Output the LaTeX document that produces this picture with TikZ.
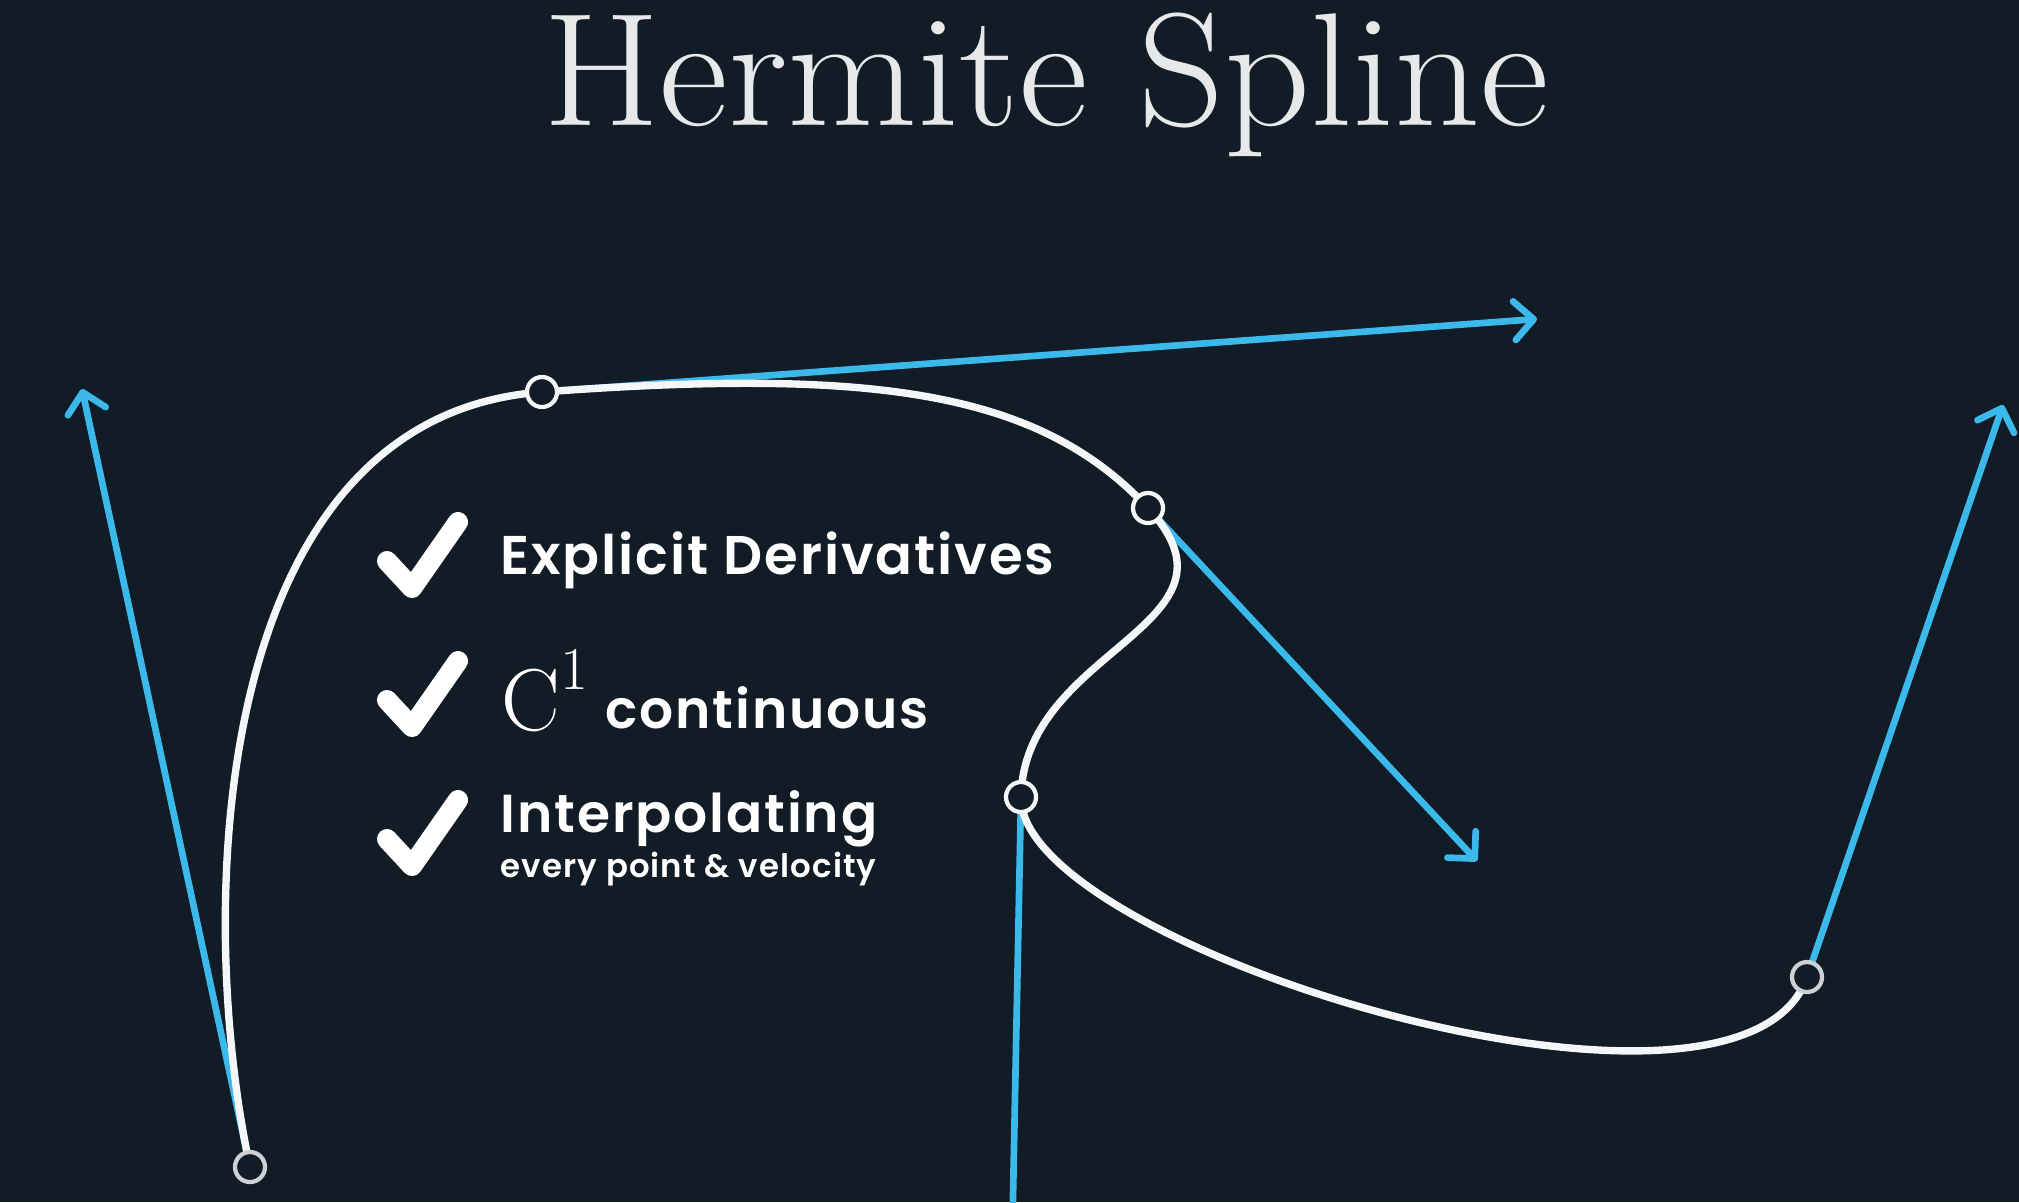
\documentclass[tikz,border=0pt]{standalone}
\usepackage{fontspec}
\IfFontExistsTF{Poppins SemiBold}
  {\newfontfamily\popfont{Poppins SemiBold}[LetterSpace=3.5]}
  {\newfontfamily\popfont{Poppins}[LetterSpace=3.5,UprightFont=*,BoldFont=*]}
\usetikzlibrary{calc,arrows.meta}
\definecolor{bg}{HTML}{111C26}
\definecolor{tanblue}{HTML}{3CB9EB}
\definecolor{curvewhite}{HTML}{F4F6F8}
\definecolor{endgray}{HTML}{CDD1D5}
\definecolor{titlegray}{HTML}{E6E8EA}

\begin{document}
\begin{tikzpicture}[x=0.01cm, y=-0.01cm,
  tanarrow/.style={draw=tanblue, line width=1.9pt, -{Straight Barb[length=5.5pt,width=11pt,round]}},
  splinecurve/.style={draw=curvewhite, line width=2.1pt},
  knot/.style={circle, draw=curvewhite, fill=bg, line width=1.2pt, minimum size=0.3cm, inner sep=0pt},
  checkmark/.style={draw=white, line width=5.7pt, line cap=round, line join=round},
  item/.style={anchor=base west, inner sep=0pt, text=white, font=\popfont\fontsize{15.2}{17}\selectfont}]
% background and frame
\fill[bg] (0,0) rectangle (2019,1202);
\clip (0,0) rectangle (2019,1202);
\node[anchor=base, inner sep=0pt, xscale=1.045, text=titlegray, font=\fontsize{45.8}{50}\selectfont] (title) at (1046,125) {Hermite Spline};
% knots and tangent tips
\coordinate (p0) at (250,1167); \coordinate (t0) at (82,389);
\coordinate (p1) at (542,392);  \coordinate (t1) at (1537,319);
\coordinate (p2) at (1148,508); \coordinate (t2) at (1477,861);
\coordinate (p3) at (1021,797); \coordinate (t3) at (1012,1247);
\coordinate (p4) at (1807,977); \coordinate (t4) at (2003,405);
\foreach \i in {0,...,4} \draw[tanarrow] (p\i) -- (t\i);
% the spline
\draw[splinecurve] (p0) .. controls ($(p0)!0.333!(t0)$) and ($(p1)!-0.333!(t1)$) .. (p1)
  .. controls ($(p1)!0.333!(t1)$) and ($(p2)!-0.333!(t2)$) .. (p2)
  .. controls ($(p2)!0.333!(t2)$) and ($(p3)!-0.333!(t3)$) .. (p3)
  .. controls ($(p3)!0.333!(t3)$) and ($(p4)!-0.333!(t4)$) .. (p4);
\node[knot, draw=endgray] (k0) at (p0) {};
\foreach \i in {1,2,3} \node[knot] (k\i) at (p\i) {};
\node[knot, draw=endgray] (k4) at (p4) {};
% checklist
\foreach \dy in {0,139,278} \draw[checkmark] (387,{561+\dy}) -- (412,{588+\dy}) -- (458,{522+\dy});
\node[item, font=\popfont\fontsize{15.5}{17}\selectfont] (expl) at (500,574) {Explicit Derivatives};
\node[item, font=\fontsize{25}{28}\selectfont] (cone) at (501,730) {$\mathrm{C}^{\raisebox{2.5pt}{$\scriptstyle 1$}}$};
\node[item] (cont) at (605,728) {continuous};
\node[item] (interp) at (500,832) {Interpolating};
\node[item, font=\popfont\fontsize{9.2}{11}\selectfont] (every) at (500,877) {every point \& velocity};
\end{tikzpicture}
\end{document}
